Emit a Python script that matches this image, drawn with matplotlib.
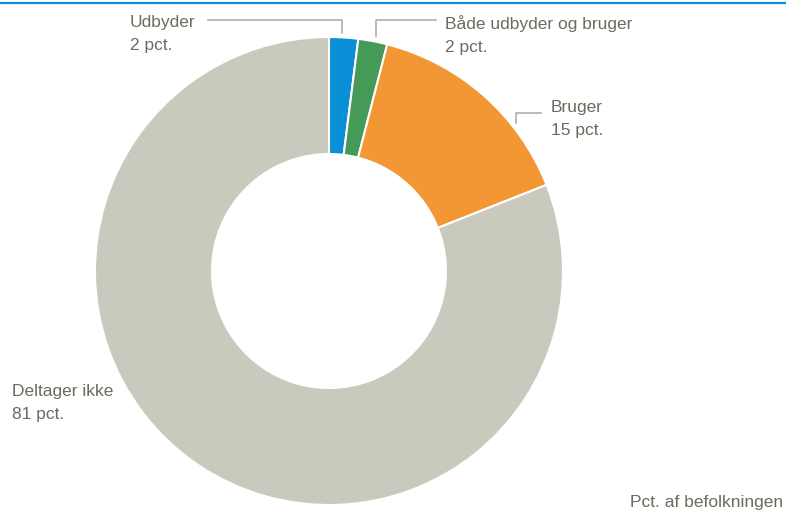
import matplotlib
matplotlib.use("Agg")
import matplotlib.pyplot as plt

categories = ["Udbyder", "Både udbyder og bruger", "Bruger", "Deltager ikke"]
values = [2, 2, 15, 81]
colors = ["#0a8fd6", "#449a56", "#f39634", "#c9c9bd"]
label_texts = ["Udbyder\n2 pct.", "Både udbyder og bruger\n2 pct.", "Bruger\n15 pct.", "Deltager ikke\n81 pct."]
note = "Pct. af befolkningen"

W, H = 786, 514
fig = plt.figure(figsize=(W / 100, H / 100), dpi=100)
ax = fig.add_axes([0, 0, 1, 1])
ax.set_xlim(0, W)
ax.set_ylim(0, H)
ax.set_aspect("equal")
ax.axis("off")

def Y(y):
    return H - y

ax.pie(values, colors=colors, startangle=90, counterclock=False,
       center=(329, Y(271)), radius=234,
       wedgeprops=dict(width=117, edgecolor="white", linewidth=1.5))
ax.set_xlim(0, W)
ax.set_ylim(0, H)

tc = "#6b6b5f"
lc = "#a9a99c"
fs = 12.5
fam = ["Liberation Sans", "DejaVu Sans"]

# top rule
ax.plot([0, W], [Y(3), Y(3)], color="#0a8fd6", lw=1.6, solid_capstyle="butt")

# leader lines
ax.plot([208, 342, 342], [Y(20), Y(20), Y(33)], color=lc, lw=1.1)
ax.plot([376, 376, 436], [Y(36), Y(20), Y(20)], color=lc, lw=1.1)
ax.plot([516, 516, 541], [Y(123), Y(113), Y(113)], color=lc, lw=1.1)

pos = [(130, 34), (445, 35), (551, 119), (12, 403)]
for (x, y), t in zip(pos, label_texts):
    ax.text(x, Y(y), t, ha="left", va="center", fontsize=fs, color=tc,
            family=fam, linespacing=1.6)

ax.text(783, Y(503), note, ha="right", va="center", fontsize=fs, color=tc, family=fam)

fig.savefig("out.png", dpi=100)
